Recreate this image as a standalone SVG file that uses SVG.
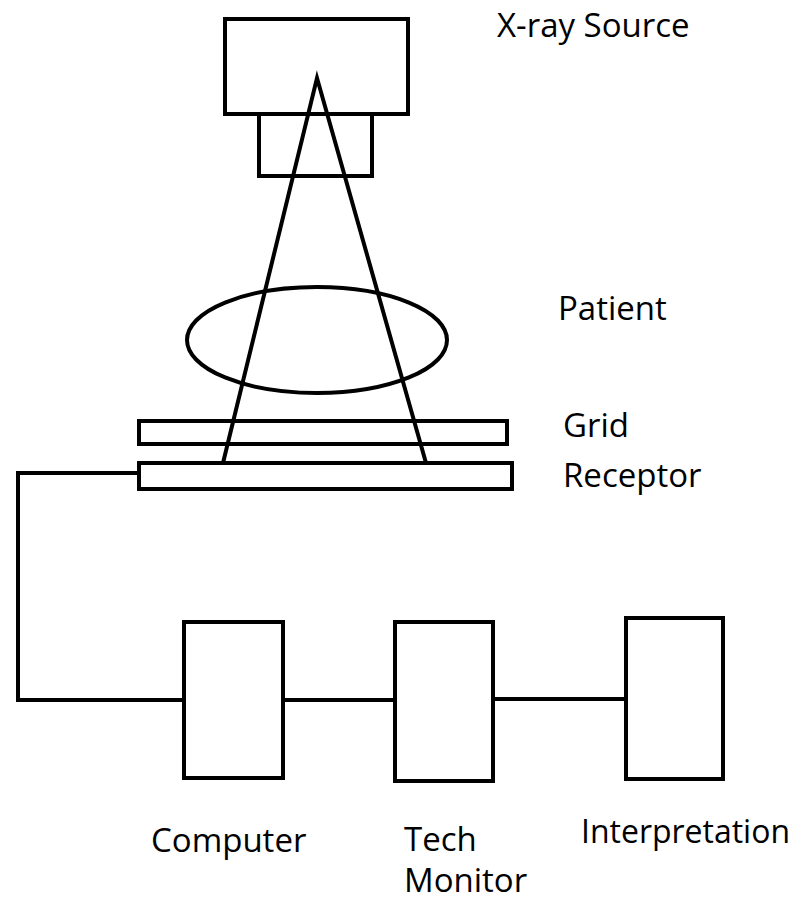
<svg xmlns="http://www.w3.org/2000/svg" width="801" height="903" viewBox="0 0 801 903">
<style>
.s{fill:none;stroke:#000;stroke-width:4}
.t{font-family:"Open Sans","Liberation Sans",sans-serif;font-size:33px;fill:#000}
</style>
<rect width="801" height="903" fill="#fff"/>
<g id="xray-source">
<rect class="s" x="225" y="19" width="183" height="95"/>
<rect class="s" x="259" y="114" width="113" height="62"/>
<text class="t" x="497" y="37">X-ray Source</text>
</g>
<g id="beam">
<polyline class="s" points="223,463 317,78 426,463" stroke-linejoin="miter"/>
</g>
<g id="patient">
<ellipse class="s" cx="317" cy="340" rx="130" ry="53"/>
<text class="t" x="558" y="320">Patient</text>
</g>
<g id="grid">
<rect class="s" x="139" y="421" width="368" height="23"/>
<text class="t" x="563" y="437">Grid</text>
</g>
<g id="receptor">
<rect class="s" x="139" y="463" width="373" height="26"/>
<text class="t" x="563" y="487">Receptor</text>
</g>
<g id="computer">
<rect class="s" x="184" y="622" width="99" height="156"/>
<text class="t" x="151" y="852">Computer</text>
</g>
<g id="tech-monitor">
<rect class="s" x="395" y="622" width="98" height="159"/>
<text class="t" x="404" y="851">Tech</text>
<text class="t" x="404" y="892">Monitor</text>
</g>
<g id="interpretation">
<rect class="s" x="626" y="618" width="97" height="161"/>
<text class="t" x="581" y="843" textLength="209" lengthAdjust="spacingAndGlyphs">Interpretation</text>
</g>
<g id="connectors">
<polyline class="s" points="139,473 18,473 18,700 182,700"/>
<line class="s" x1="283" y1="700" x2="395" y2="700"/>
<line class="s" x1="493" y1="699" x2="626" y2="699"/>
</g>
</svg>
